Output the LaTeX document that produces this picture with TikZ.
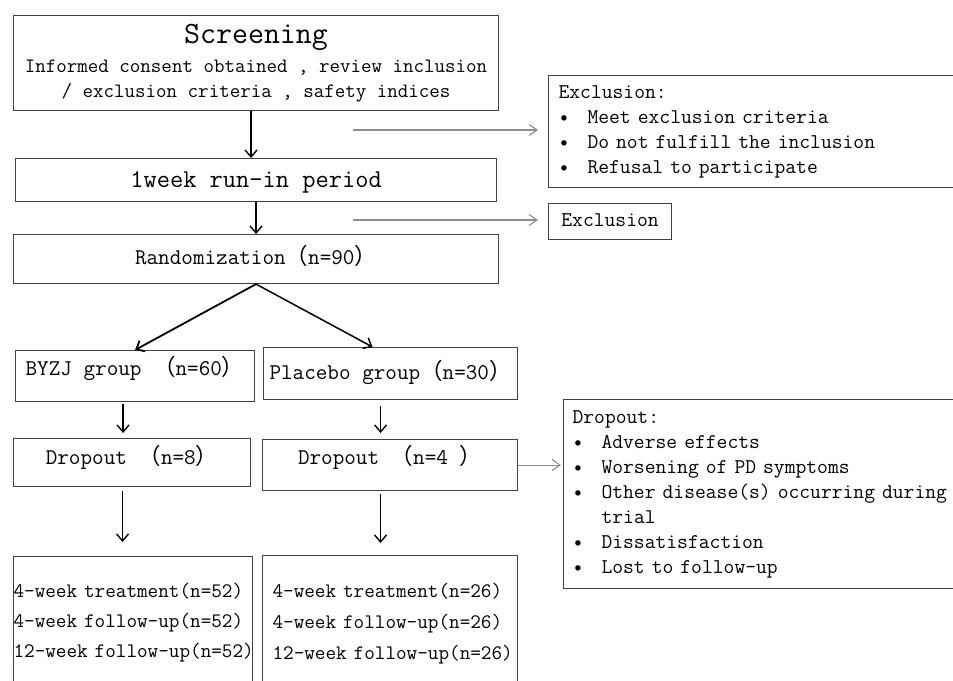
\documentclass[tikz,border=0pt]{standalone}
\usepackage{fontspec}
\renewcommand*\familydefault{\ttdefault}
\newfontfamily\cjkfont{Noto Sans CJK SC}
\newcommand\lpar{{\cjkfont （}}
\newcommand\rpar{{\cjkfont ）}}
\newcommand\bitem{\makebox[29pt][l]{\textbullet}}
\usetikzlibrary{arrows.meta}
\definecolor{edgegray}{HTML}{404040}
\definecolor{sidegray}{HTML}{8C8C8C}

\begin{document}
\begin{tikzpicture}[%
    x=1pt, y=-1pt,                              % one unit = one pixel of the layout
    >={Straight Barb[length=7pt,width=12pt]},   % open arrow heads
    every node/.style={font=\fontsize{22.5}{26}\selectfont},
    ]
% -------------------------------------------------
% Box and connector styles
\tikzset{
  base/.style={draw=edgegray, line width=1.1pt, anchor=north west, inner sep=0pt},
  proc/.style={base, align=center, text height=16pt, text depth=#1},
  proc/.default=5pt,
  list/.style={base, align=left, font=\fontsize{21}{25}\selectfont},
  % Connector line styles
  norm/.style={->, draw, black, line width=1.4pt},
  side/.style={->, draw, sidegray, line width=1.1pt,
    >={Straight Barb[length=8pt,width=11pt]}},
}
\fill[white] (0,0) rectangle (953,680);
\clip (0,0) rectangle (953,680);
% -------------------------------------------------
% Main flow
\node [base, align=center, font=\fontsize{20.4}{25}\selectfont,
  minimum width=485pt, minimum height=95pt] (screen) at (13,15)
  {{\fontsize{31}{34}\selectfont Screening}\\[4pt]
   Informed consent obtained , review inclusion\\
   / exclusion criteria , safety indices};
\node [proc, font=\fontsize{25.7}{30}\selectfont, text height=19pt,
  minimum width=481pt, minimum height=43pt] (runin) at (15,158)
  {1week run-in period};
\node [proc, minimum width=485pt, minimum height=49pt] (rand) at (13,234)
  {Randomization\lpar{}n=90\rpar};
% Exclusions on the right
\node [list, text width=400pt, inner xsep=10pt, minimum height=112pt]
  (excl) at (548,75)
  {Exclusion:\\
   \bitem Meet exclusion criteria\\
   \bitem Do not fulfill the inclusion\\
   \bitem Refusal to participate};
\node [proc, font=\fontsize{21}{25}\selectfont, text height=15pt,
  minimum width=123pt, minimum height=36pt] (excl2) at (548,203) {Exclusion};
% Two arms
\node [proc=18pt, minimum width=239pt, minimum height=51pt] (byzj) at (15,350)
  {BYZJ group \lpar{}n=60\rpar};
\node [proc, minimum width=254pt, minimum height=52pt] (placebo) at (263,347)
  {Placebo group\lpar{}n=30\rpar};
\node [proc=13pt, minimum width=237pt, minimum height=48pt] (dropL) at (13,438)
  {Dropout \lpar{}n=8\rpar};
\node [proc=18pt, minimum width=255pt, minimum height=51pt] (dropR) at (262,439)
  {Dropout \lpar{}n=4 \rpar};
\node [list, text width=400pt, inner xsep=9pt, minimum height=189pt]
  (reasons) at (563,399)
  {Dropout:\\
   \bitem Adverse effects\\
   \bitem Worsening of PD symptoms\\
   \bitem Other disease(s) occurring during\\
   \hspace*{29pt}trial\\
   \bitem Dissatisfaction\\
   \bitem Lost to follow-up};
\node [list, font=\fontsize{20.6}{30}\selectfont, text width=239pt,
  minimum height=132pt] (finalL) at (13,556)
  {\mbox{4-week treatment(n=52)}\\
   \mbox{4-week follow-up(n=52)}\\
   \mbox{12-week follow-up(n=52)}};
\node [list, font=\fontsize{20.6}{31}\selectfont, text width=235pt,
  inner xsep=10pt, minimum height=136pt] (finalR) at (262,555)
  {\mbox{4-week treatment(n=26)}\\
   \mbox{4-week follow-up(n=26)}\\
   \mbox{12-week follow-up(n=26)}};

% -------------------------------------------------
% Connectors
\draw [norm] ([xshift=-5pt]screen.south) -- ([xshift=-5pt]screen.south |- runin.north);
\draw [norm] (runin.south) -- (rand.north);
\draw [norm, line width=1.8pt] (rand.south) -- (byzj.north);
\draw [norm, line width=1.5pt] (rand.south) -- ([xshift=-18pt]placebo.north);
\draw [norm, shorten <=2pt, shorten >=5pt]
  ([xshift=-12pt]byzj.south) -- ([xshift=-12pt]byzj.south |- dropL.north);
\draw [norm, shorten <=6pt, shorten >=6pt]
  ([xshift=-10pt]placebo.south) -- ([xshift=-10pt]placebo.south |- dropR.north);
\draw [norm, shorten <=4pt, shorten >=14pt]
  ([xshift=-9.5pt]dropL.south) -- ([xshift=-9.5pt]dropL.south |- finalL.north);
\draw [norm, shorten <=3pt, shorten >=12pt]
  ([xshift=-9.5pt]dropR.south) -- ([xshift=-9.5pt]dropR.south |- finalR.north);
% Grey side arrows
\coordinate (g1) at (353,130);
\coordinate (g2) at (353,220);
\draw [side, shorten >=10pt] (g1) -- (g1 -| excl.west);
\draw [side, shorten >=10pt] (g2) -- (g2 -| excl2.west);
\draw [side, shorten >=2pt] (dropR.east) -- (dropR.east -| reasons.west);
% -------------------------------------------------
\end{tikzpicture}
\end{document}
